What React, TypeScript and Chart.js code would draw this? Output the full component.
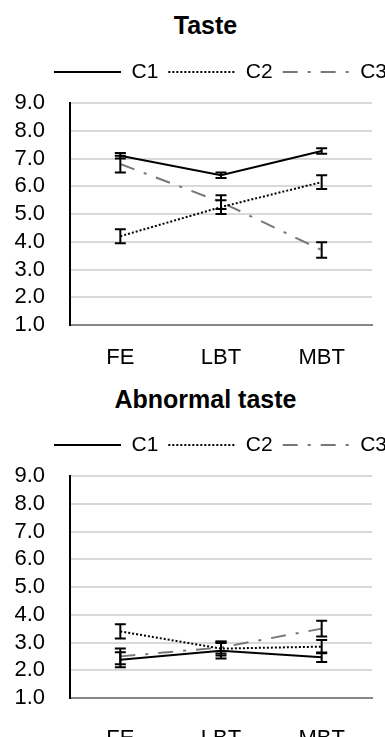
import React, { useEffect, useRef } from "react";
import { Chart, registerables } from "chart.js";

Chart.register(...registerables);

// ---------- data ----------
const CATEGORIES = ["FE", "LBT", "MBT"];
const SERIES_NAMES = ["C1", "C2", "C3"];
const Y_MIN = 1;
const Y_MAX = 9;
const Y_STEP = 1;

const TASTE_TITLE = "Taste";
const TASTE_C1 = [7.1, 6.4, 7.27];
const TASTE_C1_ERR = [0.1, 0.1, 0.1];
const TASTE_C2 = [4.2, 5.25, 6.15];
const TASTE_C2_ERR = [0.25, 0.25, 0.25];
const TASTE_C3 = [6.8, 5.43, 3.7];
const TASTE_C3_ERR = [0.3, 0.25, 0.28];

const ABN_TITLE = "Abnormal taste";
const ABN_C1 = [2.38, 2.7, 2.47];
const ABN_C1_ERR = [0.27, 0.28, 0.17];
const ABN_C2 = [3.4, 2.78, 2.85];
const ABN_C2_ERR = [0.26, 0.25, 0.24];
const ABN_C3 = [2.5, 2.82, 3.5];
const ABN_C3_ERR = [0.28, 0.22, 0.28];

// ---------- styles ----------
const FONT = "'Liberation Sans', Arial, sans-serif";
const TICK_FONT = { family: FONT, size: 22 };
const LEGEND_FONT = { family: FONT, size: 21 };
const SERIES_STYLES = [
  { color: "#000000", dash: [] as number[] },
  { color: "#000000", dash: [2, 2] },
  { color: "#787878", dash: [15, 10, 3, 10] },
];
const CANVAS_W = 441;
const CANVAS_H = 368;
const CAP = 5.5;

const errorBarsPlugin = {
  id: "errorBars",
  afterDatasetsDraw(chart: any) {
    const { ctx } = chart;
    const yScale = chart.scales.y;
    chart.data.datasets.forEach((ds: any, i: number) => {
      const errs: number[] | undefined = ds.errorBars;
      if (!errs) return;
      const meta = chart.getDatasetMeta(i);
      ctx.save();
      ctx.strokeStyle = "#000";
      ctx.lineWidth = 2;
      ctx.setLineDash([]);
      meta.data.forEach((pt: any, j: number) => {
        const v = ds.data[j];
        const e = errs[j];
        const x = pt.x;
        const top = yScale.getPixelForValue(v + e);
        const bot = yScale.getPixelForValue(v - e);
        ctx.beginPath();
        ctx.moveTo(x, top);
        ctx.lineTo(x, bot);
        ctx.moveTo(x - CAP, top);
        ctx.lineTo(x + CAP, top);
        ctx.moveTo(x - CAP, bot);
        ctx.lineTo(x + CAP, bot);
        ctx.stroke();
      });
      ctx.restore();
    });
  },
};

function makeDatasets(values: number[][], errors: number[][]) {
  return values.map((vals, i) => ({
    label: SERIES_NAMES[i],
    data: vals,
    errorBars: errors[i],
    borderColor: SERIES_STYLES[i].color,
    backgroundColor: SERIES_STYLES[i].color,
    borderDash: SERIES_STYLES[i].dash,
    borderWidth: 2,
    pointRadius: 0,
    tension: 0,
    fill: false,
  }));
}

type PanelProps = {
  title: string;
  titleTop: number;
  top: number;
  tickPad: number;
  values: number[][];
  errors: number[][];
};

function Panel({ title, titleTop, top, tickPad, values, errors }: PanelProps) {
  const ref = useRef<HTMLCanvasElement>(null);
  useEffect(() => {
    const chart = new Chart(ref.current as HTMLCanvasElement, {
      type: "line",
      data: { labels: CATEGORIES, datasets: makeDatasets(values, errors) as any },
      plugins: [errorBarsPlugin],
      options: {
        responsive: false,
        animation: false,
        layout: { padding: { top: 51.5, left: 0, right: 0, bottom: 0 } },
        plugins: {
          tooltip: { enabled: false },
          title: { display: false },
          legend: {
            display: true,
            position: "top",
            labels: {
              usePointStyle: true,
              pointStyle: "line",
              pointStyleWidth: 67,
              padding: 10,
              color: "#000",
              font: LEGEND_FONT,
              generateLabels: (c: any) =>
                c.data.datasets.map((ds: any, i: number) => ({
                  text: ds.label,
                  fillStyle: ds.borderColor,
                  strokeStyle: ds.borderColor,
                  lineWidth: ds.borderWidth,
                  lineDash: ds.borderDash,
                  lineCap: "butt",
                  pointStyle: "line",
                  hidden: false,
                  datasetIndex: i,
                  fontColor: "#000",
                })),
            },
          },
        },
        scales: {
          x: {
            type: "category",
            offset: true,
            grid: { display: false, drawTicks: false },
            border: { display: true, color: "#868686", width: 2 },
            ticks: { color: "#000", font: TICK_FONT, padding: tickPad, maxRotation: 0 },
            afterFit: (s: any) => {
              s.height = 43;
            },
          },
          // spacer between legend and plot area
          xTop: {
            type: "category",
            position: "top",
            display: true,
            ticks: { display: false },
            grid: { display: false, drawTicks: false },
            border: { display: false },
            afterFit: (s: any) => {
              s.height = 10.5;
            },
          },
          y: {
            min: Y_MIN,
            max: Y_MAX,
            ticks: {
              stepSize: Y_STEP,
              autoSkip: false,
              padding: 25,
              color: "#000",
              font: TICK_FONT,
              callback: (v: any) => Number(v).toFixed(1),
            },
            grid: { color: "#d9d9d9", lineWidth: 2, drawTicks: false },
            border: { display: true, color: "#000", width: 2 },
            afterFit: (s: any) => {
              s.width = 70;
            },
          },
          // spacer on the right so the legend is centred like the original
          yRight: {
            position: "right",
            display: true,
            ticks: { display: false },
            grid: { display: false, drawTicks: false },
            border: { display: false },
            afterFit: (s: any) => {
              s.width = 69;
            },
          },
        },
      } as any,
    });
    return () => chart.destroy();
  }, []);

  return (
    <>
      <div
        style={{
          position: "absolute",
          left: 0,
          top: titleTop,
          width: 411,
          textAlign: "center",
          fontFamily: FONT,
          fontWeight: "bold",
          fontSize: 25,
          lineHeight: "30px",
          color: "#000",
          whiteSpace: "nowrap",
        }}
      >
        {title}
      </div>
      <canvas
        ref={ref}
        width={CANVAS_W}
        height={CANVAS_H}
        style={{ position: "absolute", left: 0, top, width: CANVAS_W, height: CANVAS_H }}
      />
    </>
  );
}

export default function App() {
  return (
    <div
      style={{
        position: "absolute",
        left: 0,
        top: 0,
        width: 385,
        height: 737,
        overflow: "hidden",
        background: "#fff",
      }}
    >
      <Panel
        title={TASTE_TITLE}
        titleTop={10}
        top={0}
        tickPad={20}
        values={[TASTE_C1, TASTE_C2, TASTE_C3]}
        errors={[TASTE_C1_ERR, TASTE_C2_ERR, TASTE_C3_ERR]}
      />
      <Panel
        title={ABN_TITLE}
        titleTop={384}
        top={373}
        tickPad={28}
        values={[ABN_C1, ABN_C2, ABN_C3]}
        errors={[ABN_C1_ERR, ABN_C2_ERR, ABN_C3_ERR]}
      />
    </div>
  );
}
